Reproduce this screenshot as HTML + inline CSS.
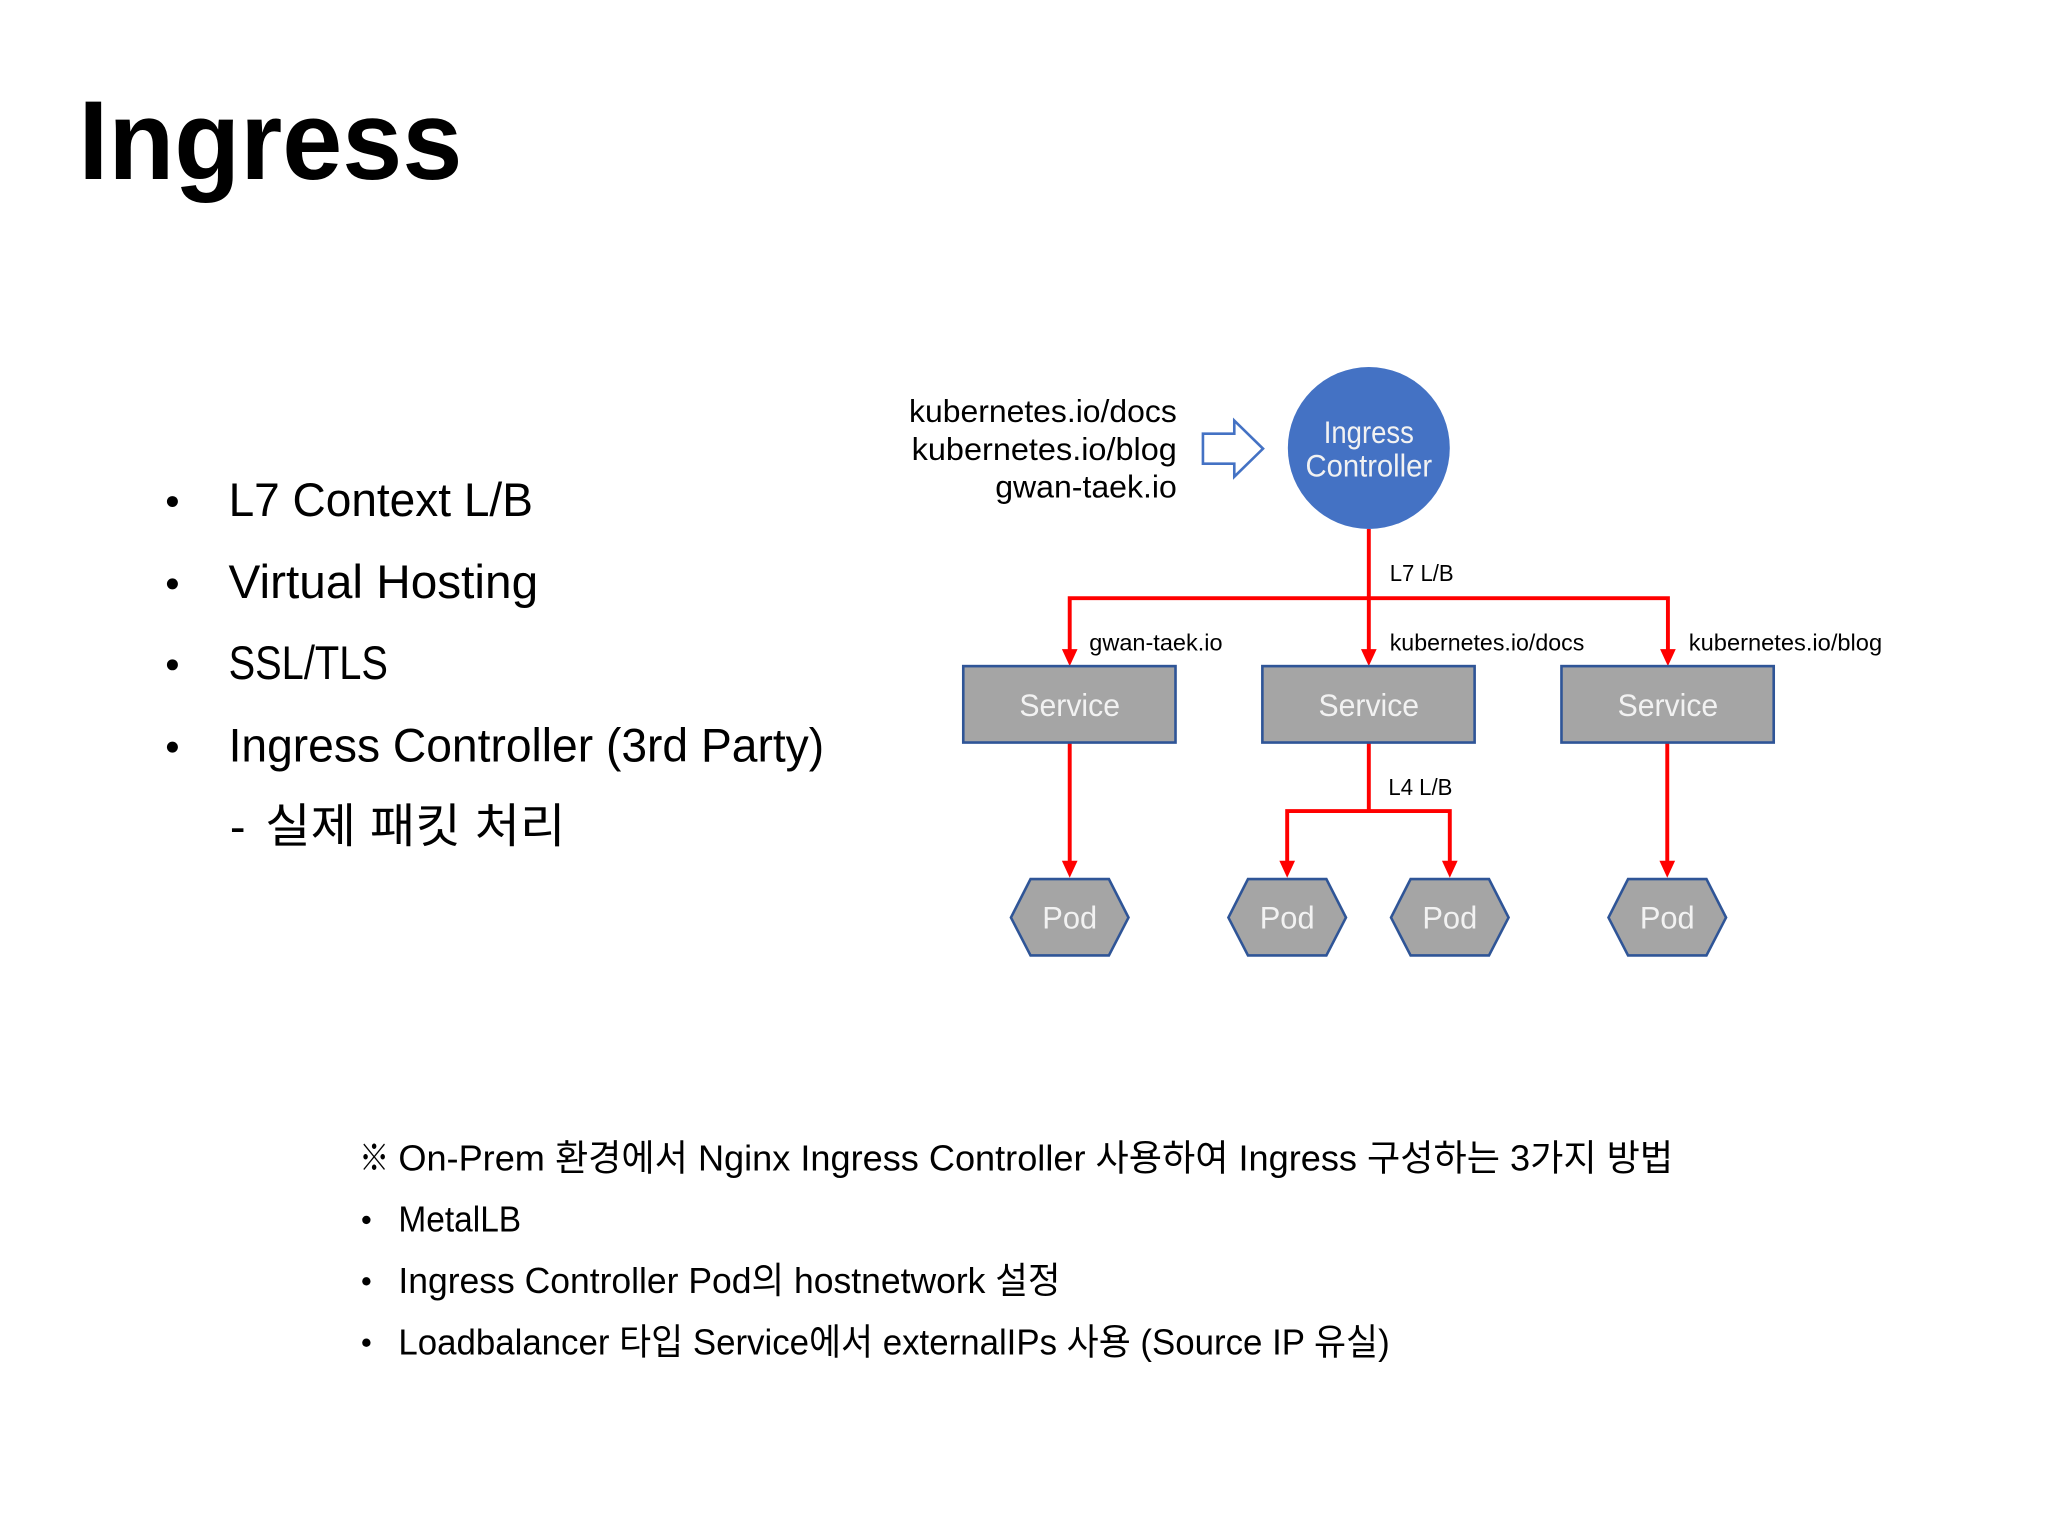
<!DOCTYPE html>
<html lang="ko">
<head>
<meta charset="utf-8">
<title>Ingress</title>
<style>
html,body{margin:0;padding:0;background:#fff;width:2048px;height:1536px;overflow:hidden}
svg{display:block}
text{font-family:"Liberation Sans","Noto Sans CJK KR",sans-serif;fill:#000}
.b{font-size:36px}
.d{font-size:24px}
.l{font-size:17.5px}
.f{font-size:28px}
.w{font-size:24px;fill:#f2f2f2;text-anchor:middle}
.box{fill:#a5a5a5;stroke:#2f5597;stroke-width:2}
.red{fill:none;stroke:#ff0000;stroke-width:3}
.tri{fill:#ff0000}
</style>
</head>
<body>
<svg xmlns="http://www.w3.org/2000/svg" width="2048" height="1536" viewBox="0 0 1568 1176">
<rect width="1568" height="1176" fill="#fff"/>

<text x="60" y="137" font-size="86" font-weight="700" textLength="294" lengthAdjust="spacingAndGlyphs">Ingress</text>

<circle cx="132" cy="384" r="4.2"/><circle cx="132" cy="447" r="4.2"/><circle cx="132" cy="509" r="4.2"/><circle cx="132" cy="572" r="4.2"/>
<text class="b" x="175" y="395" textLength="233" lengthAdjust="spacingAndGlyphs">L7 Context L/B</text>
<text class="b" x="175" y="458" textLength="237" lengthAdjust="spacingAndGlyphs">Virtual Hosting</text>
<text class="b" x="175" y="520" textLength="122" lengthAdjust="spacingAndGlyphs">SSL/TLS</text>
<text class="b" x="175" y="583" textLength="456" lengthAdjust="spacingAndGlyphs">Ingress Controller (3rd Party)</text>
<text class="b" x="176" y="645">-</text>
<text class="b" x="203" y="645" textLength="230" lengthAdjust="spacingAndGlyphs">실제 패킷 처리</text>

<text class="d" x="696" y="323" textLength="205" lengthAdjust="spacingAndGlyphs">kubernetes.io/docs</text>
<text class="d" x="698" y="352" textLength="203" lengthAdjust="spacingAndGlyphs">kubernetes.io/blog</text>
<text class="d" x="762" y="381" textLength="139" lengthAdjust="spacingAndGlyphs">gwan-taek.io</text>
<polygon points="921,332 945,332 945,322 967,343.5 945,365 945,355 921,355" fill="#fff" stroke="#4472c4" stroke-width="2"/>

<circle cx="1048" cy="343" r="62" fill="#4472c4"/>
<text class="w" x="1048" y="339" textLength="69" lengthAdjust="spacingAndGlyphs">Ingress</text>
<text class="w" x="1048" y="365" textLength="97" lengthAdjust="spacingAndGlyphs">Controller</text>

<path class="red" d="M1048 405V498M819 498V458H1277V498M819 569V660M1276.500 569V660M1048 569V621M985.500 660V621H1110V660"/>
<polygon class="tri" points="813,497 825,497 819,510"/>
<polygon class="tri" points="1042,497 1054,497 1048,510"/>
<polygon class="tri" points="1271,497 1283,497 1277,510"/>
<polygon class="tri" points="813,659 825,659 819,672"/>
<polygon class="tri" points="979.500,659 991.500,659 985.500,672"/>
<polygon class="tri" points="1104,659 1116,659 1110,672"/>
<polygon class="tri" points="1270.500,659 1282.500,659 1276.500,672"/>

<rect class="box" x="737.5" y="510" width="162.500" height="58.500"/>
<rect class="box" x="966.500" y="510" width="162.500" height="58.500"/>
<rect class="box" x="1195.500" y="510" width="162.500" height="58.500"/>
<text class="w" x="819" y="548" textLength="77" lengthAdjust="spacingAndGlyphs">Service</text>
<text class="w" x="1048" y="548" textLength="77" lengthAdjust="spacingAndGlyphs">Service</text>
<text class="w" x="1277" y="548" textLength="77" lengthAdjust="spacingAndGlyphs">Service</text>

<polygon class="box" points="774,702.5 789,673 849,673 864,702.5 849,731.500 789,731.500"/>
<polygon class="box" points="940.5,702.5 955.5,673 1015.5,673 1030.5,702.5 1015.5,731.500 955.5,731.500"/>
<polygon class="box" points="1065,702.5 1080,673 1140,673 1155,702.5 1140,731.500 1080,731.500"/>
<polygon class="box" points="1231.5,702.5 1246.5,673 1306.5,673 1321.5,702.5 1306.5,731.500 1246.5,731.500"/>
<text class="w" x="819" y="711" textLength="42" lengthAdjust="spacingAndGlyphs">Pod</text>
<text class="w" x="985.5" y="711" textLength="42" lengthAdjust="spacingAndGlyphs">Pod</text>
<text class="w" x="1110" y="711" textLength="42" lengthAdjust="spacingAndGlyphs">Pod</text>
<text class="w" x="1276.5" y="711" textLength="42" lengthAdjust="spacingAndGlyphs">Pod</text>

<text class="l" x="1064" y="445" textLength="49" lengthAdjust="spacingAndGlyphs">L7 L/B</text>
<text class="l" x="834" y="498" textLength="102" lengthAdjust="spacingAndGlyphs">gwan-taek.io</text>
<text class="l" x="1064" y="498" textLength="149" lengthAdjust="spacingAndGlyphs">kubernetes.io/docs</text>
<text class="l" x="1293" y="498" textLength="148" lengthAdjust="spacingAndGlyphs">kubernetes.io/blog</text>
<text class="l" x="1063" y="608.500" textLength="49" lengthAdjust="spacingAndGlyphs">L4 L/B</text>

<text class="f" x="275" y="896" textLength="23" lengthAdjust="spacingAndGlyphs">※</text>
<text class="f" x="305" y="896" textLength="976" lengthAdjust="spacingAndGlyphs">On-Prem 환경에서 Nginx Ingress Controller 사용하여 Ingress 구성하는 3가지 방법</text>
<circle cx="280.5" cy="934" r="3.200"/><circle cx="280.5" cy="981" r="3.200"/><circle cx="280.5" cy="1028" r="3.200"/>
<text class="f" x="305" y="943" textLength="94" lengthAdjust="spacingAndGlyphs">MetalLB</text>
<text class="f" x="305" y="990" textLength="507" lengthAdjust="spacingAndGlyphs">Ingress Controller Pod의 hostnetwork 설정</text>
<text class="f" x="305" y="1037" textLength="759" lengthAdjust="spacingAndGlyphs">Loadbalancer 타입 Service에서 externalIPs 사용 (Source IP 유실)</text>
</svg>
</body>
</html>
